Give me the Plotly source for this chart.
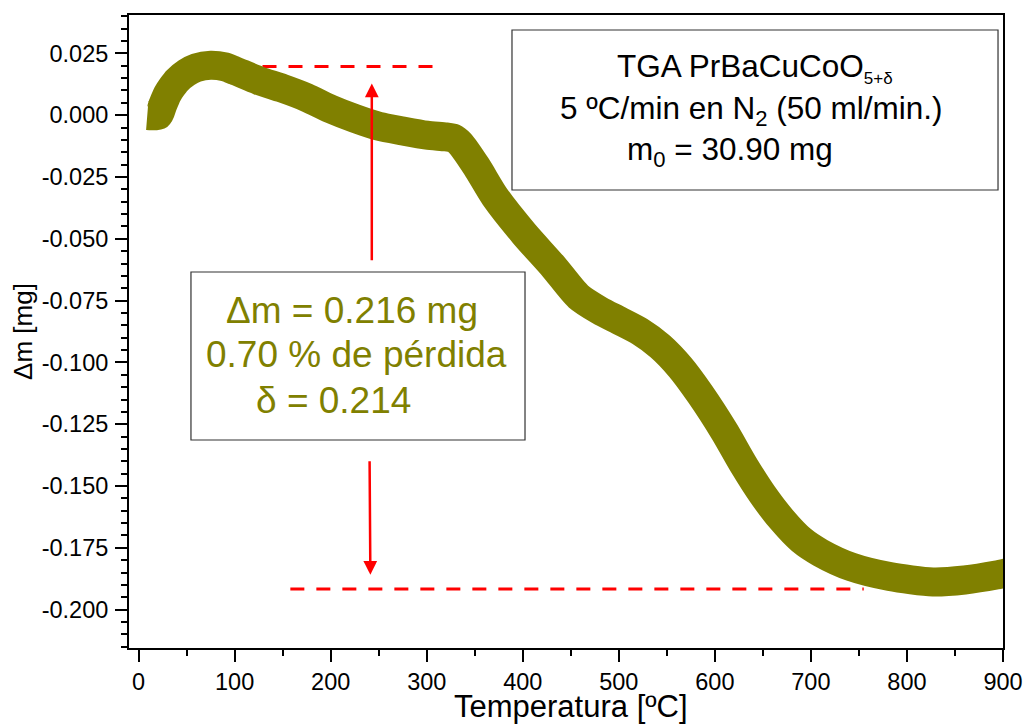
import plotly.graph_objects as go

# ---- data ----
temperature = [9, 21, 25, 30, 35, 40, 50, 60, 75, 90, 100, 125, 150, 175, 200, 225, 250,
               275, 300, 320, 328, 335, 352, 371, 401, 432, 458, 480, 500, 522, 543, 564,
               585, 610, 630, 650, 670, 690, 710, 742, 782, 827, 860, 893, 905]
mass_change = [-0.0002, 0.0000, 0.0040, 0.0085, 0.0115, 0.0140, 0.0172, 0.0192, 0.0202,
               0.0195, 0.0180, 0.0140, 0.0108, 0.0071, 0.0025, -0.0013, -0.0045, -0.0064,
               -0.0081, -0.0088, -0.0093, -0.0115, -0.0209, -0.0330, -0.0478, -0.0613,
               -0.0734, -0.0790, -0.0830, -0.0875, -0.0935, -0.1020, -0.1130, -0.1280,
               -0.1415, -0.1536, -0.1637, -0.1718, -0.1770, -0.1827, -0.1866, -0.1888,
               -0.1880, -0.1860, -0.1850]

x_tick_vals = [0, 100, 200, 300, 400, 500, 600, 700, 800, 900]
x_tick_text = ["0", "100", "200", "300", "400", "500", "600", "700", "800", "900"]
y_tick_vals = [0.025, 0.0, -0.025, -0.05, -0.075, -0.1, -0.125, -0.15, -0.175, -0.2]
y_tick_text = ["0.025", "0.000", "-0.025", "-0.050", "-0.075", "-0.100", "-0.125",
               "-0.150", "-0.175", "-0.200"]
x_title = "Temperatura [ºC]"
y_title = "Δm [mg]"

# reference levels (dashed) and arrows
upper_level = 0.0197
upper_level_T = [129, 312]
lower_level = -0.1916
lower_level_T = [158, 755]
arrow_up = dict(T_tail=242.8, v_tail=-0.0593, T_tip=242.8, v_tip=0.0128)
arrow_down = dict(T_tail=240.5, v_tail=-0.1394, T_tip=241.3, v_tip=-0.1859)

OLIVE = "#808000"
RED = "#ff0000"
FONT = "Arial, Liberation Sans, sans-serif"

fig = go.Figure()
fig.add_trace(go.Scatter(
    x=upper_level_T, y=[upper_level, upper_level], mode="lines",
    line=dict(color=RED, width=3, dash="14px,12px"),
    showlegend=False, hoverinfo="skip"))
fig.add_trace(go.Scatter(
    x=lower_level_T, y=[lower_level, lower_level], mode="lines",
    line=dict(color=RED, width=3, dash="14px,12px"),
    showlegend=False, hoverinfo="skip"))
fig.add_trace(go.Scatter(
    x=temperature, y=mass_change, mode="lines",
    line=dict(color=OLIVE, width=29, shape="spline", smoothing=0.7),
    showlegend=False, hoverinfo="skip"))

for a in (arrow_up, arrow_down):
    fig.add_annotation(x=a["T_tip"], y=a["v_tip"], ax=a["T_tail"], ay=a["v_tail"],
                       xref="x", yref="y", axref="x", ayref="y", text="",
                       showarrow=True, arrowhead=2, arrowsize=1.1, arrowwidth=2.5,
                       arrowcolor=RED, standoff=0, startstandoff=0)

# boxes
fig.add_shape(type="rect", xref="paper", yref="paper", x0=0.4382, x1=0.9943,
              y0=0.7235, y1=0.9763, line=dict(color="#333333", width=1.2),
              fillcolor="white")
fig.add_shape(type="rect", xref="paper", yref="paper", x0=0.0709, x1=0.4531,
              y0=0.3286, y1=0.5940, line=dict(color="#333333", width=1.2),
              fillcolor="white")

box1_lines = [
    ("TGA PrBaCuCoO<sub><span style='font-size:17px'>5+δ</span></sub>", 0.7162, 0.9163),
    ("5 ºC/min en N<sub>2</sub> (50 ml/min.)", 0.7128, 0.8499),
    ("m<sub>0</sub> = 30.90 mg", 0.6876, 0.7836),
]
for txt, xp, yp in box1_lines:
    fig.add_annotation(text=txt, x=xp, y=yp, xref="paper", yref="paper",
                       showarrow=False, xanchor="center", yanchor="middle",
                       font=dict(family=FONT, size=31.5, color="black"))

box2_lines = [
    ("Δm = 0.216 mg", 0.2546, 0.5324),
    ("0.70 % de pérdida", 0.2605, 0.4629),
    ("δ = 0.214", 0.2342, 0.3910),
]
for txt, xp, yp in box2_lines:
    fig.add_annotation(text=txt, x=xp, y=yp, xref="paper", yref="paper",
                       showarrow=False, xanchor="center", yanchor="middle",
                       font=dict(family=FONT, size=37, color=OLIVE))

# x-axis title placed as a paper annotation so it can sit close to the bottom edge
fig.add_annotation(text=x_title, x=0.5057, y=-0.0925, xref="paper", yref="paper",
                   showarrow=False, xanchor="center", yanchor="middle",
                   font=dict(family=FONT, size=31, color="black"))

fig.update_xaxes(
    range=[-10, 900], tickmode="array", tickvals=x_tick_vals, ticktext=x_tick_text,
    ticks="outside", ticklen=12, tickwidth=2, tickcolor="black",
    minor=dict(ticks="outside", dtick=50, tick0=0, ticklen=6, tickwidth=2,
               tickcolor="black"),
    showline=True, linecolor="black", linewidth=2, mirror=True,
    showgrid=False, zeroline=False,
    tickfont=dict(family=FONT, size=23.5, color="black"),
)
fig.update_yaxes(
    range=[-0.2155, 0.0405], tickmode="array", tickvals=y_tick_vals, ticktext=y_tick_text,
    ticks="outside", ticklen=12, tickwidth=2, tickcolor="black",
    minor=dict(ticks="outside", dtick=0.005, tick0=0, ticklen=6, tickwidth=2,
               tickcolor="black"),
    showline=True, linecolor="black", linewidth=2, mirror=True,
    showgrid=False, zeroline=False, ticklabelstandoff=2,
    tickfont=dict(family=FONT, size=23.5, color="black"),
    title=dict(text=y_title, font=dict(family=FONT, size=26, color="black"),
               standoff=2),
)

fig.update_layout(
    width=1025, height=724,
    margin=dict(l=129, r=22, t=15, b=76, autoexpand=False),
    plot_bgcolor="white", paper_bgcolor="white",
    showlegend=False,
)

fig.write_html("out.html", config={"displayModeBar": False},
               post_script="document.body.style.margin='0px';")
